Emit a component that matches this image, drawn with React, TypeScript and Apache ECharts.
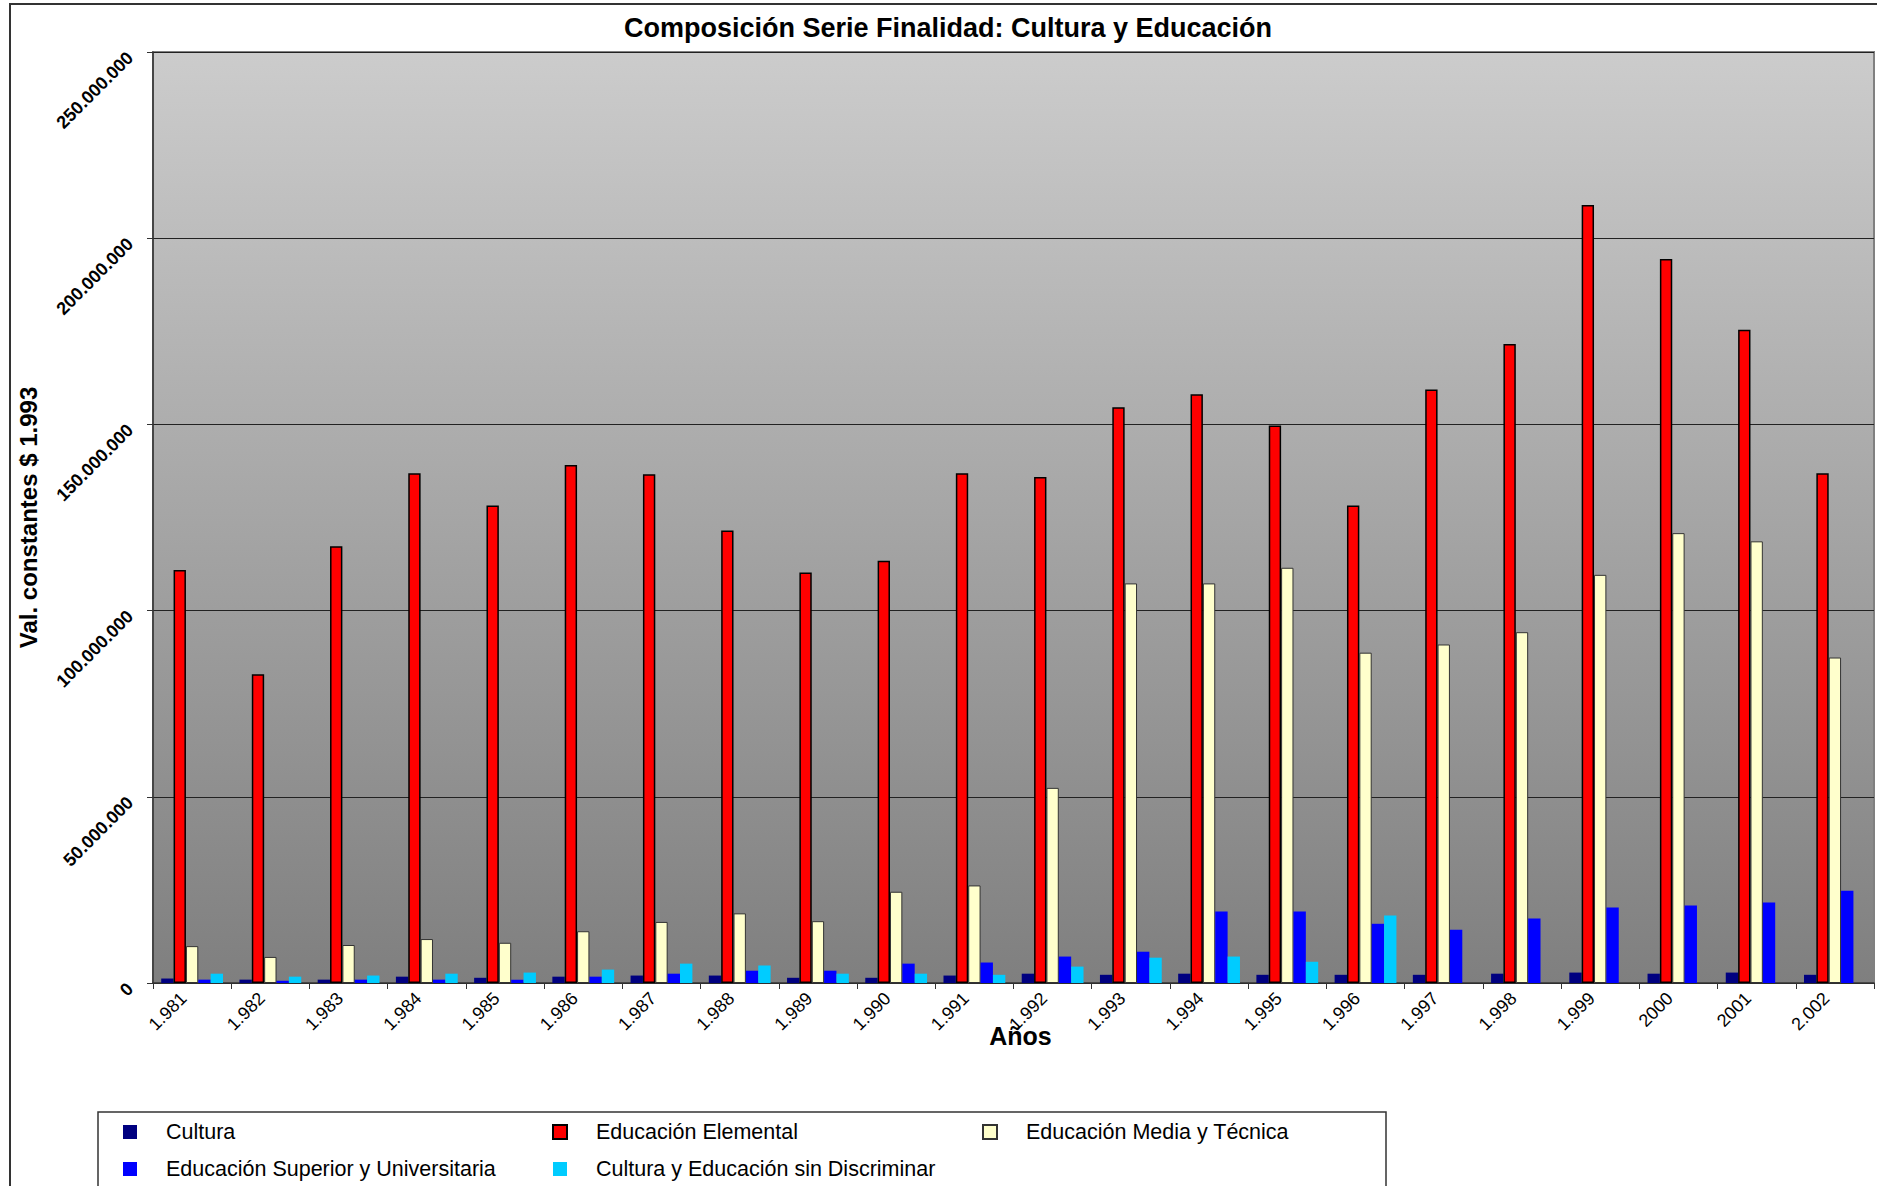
import React, { useEffect, useRef } from "react";
import * as echarts from "echarts";

const years = ["1.981","1.982","1.983","1.984","1.985","1.986","1.987","1.988","1.989","1.990","1.991","1.992","1.993","1.994","1.995","1.996","1.997","1.998","1.999","2000","2001","2.002"];

// values in millions of constant 1993 pesos
const cultura = [1.2,0.9,0.9,1.7,1.4,1.7,2.0,2.0,1.4,1.4,2.0,2.5,2.2,2.5,2.2,2.2,2.2,2.5,2.8,2.5,2.8,2.2];
const elemental = [110.9,82.9,117.3,136.9,128.2,139.1,136.6,121.5,110.2,113.4,136.9,135.9,154.6,158.1,149.7,128.2,159.4,171.6,208.9,194.4,175.4,136.9];
const mediaTecnica = [9.9,7.0,10.2,11.8,10.8,13.9,16.4,18.7,16.6,24.5,26.2,52.4,107.3,107.3,111.5,88.7,90.9,94.2,109.6,120.8,118.6,87.4];
const superior = [0.9,0.6,0.9,0.9,0.9,1.7,2.5,3.3,3.3,5.2,5.5,7.1,8.4,19.2,19.2,15.9,14.3,17.3,20.3,20.8,21.6,24.8];
const sinDiscriminar = [2.5,1.7,2.0,2.5,2.8,3.6,5.2,4.7,2.5,2.5,2.2,4.4,6.8,7.1,5.7,18.1,0,0,0,0,0,0];

const yTicks = [0, 50000000, 100000000, 150000000, 200000000, 250000000];

const FONT = "'Liberation Sans', Arial, sans-serif";

function fmt(v: number): string {
  return String(Math.round(v)).replace(/\B(?=(\d{3})+(?!\d))/g, ".");
}

const toUnits = (arr: number[]) => arr.map((v) => Math.round(v * 1e6));

const legendBase = {
  orient: "vertical",
  top: 1121,
  padding: 0,
  itemWidth: 14,
  itemHeight: 14,
  itemGap: 15,
  icon: "rect",
  z: 5,
  textStyle: { fontFamily: FONT, fontSize: 21.5, lineHeight: 22, color: "#000", padding: [0, 0, 0, 24] },
};

export default function App() {
  const ref = useRef<HTMLDivElement>(null);
  useEffect(() => {
    if (!ref.current) return;
    const chart = echarts.init(ref.current, null, { renderer: "svg" });
    const barBase = { type: "bar", barGap: "0%", barCategoryGap: "21%" };
    chart.setOption({
      animation: false,
      backgroundColor: "#ffffff",
      textStyle: { fontFamily: FONT },
      title: {
        text: "Composición Serie Finalidad: Cultura y Educación",
        left: 943,
        top: 9,
        textAlign: "center",
        textStyle: { fontFamily: FONT, fontSize: 27, fontWeight: "bold", color: "#000" },
      },
      graphic: [
        {
          type: "rect",
          shape: { x: 10, y: 4, width: 1900, height: 1300 },
          style: { fill: "none", stroke: "#333", lineWidth: 2 },
          z: -1,
          silent: true,
        },
        {
          type: "rect",
          shape: { x: 98, y: 1112, width: 1288, height: 200 },
          style: { fill: "#fff", stroke: "#333", lineWidth: 1.5 },
          z: 0,
          silent: true,
        },
      ],
      grid: {
        left: 153,
        right: 3,
        top: 52,
        bottom: 203,
        show: true,
        borderColor: "#808080",
        borderWidth: 2,
        backgroundColor: {
          type: "linear",
          x: 0, y: 0, x2: 0, y2: 1,
          colorStops: [
            { offset: 0, color: "#cccccc" },
            { offset: 1, color: "#7f7f7f" },
          ],
        },
      },
      legend: [
        { ...legendBase, data: ["Cultura", "Educación Superior y Universitaria"], left: 123 },
        { ...legendBase, data: ["Educación Elemental", "Cultura y Educación sin Discriminar"], left: 552 },
        { ...legendBase, data: ["Educación Media y Técnica"], left: 982 },
      ],
      xAxis: {
        type: "category",
        data: years,
        name: "Años",
        nameLocation: "middle",
        nameGap: 40,
        nameMoveOverlap: false,
        nameTextStyle: { fontFamily: FONT, fontSize: 25, fontWeight: "bold", color: "#000", padding: [0, 0, 0, 14] },
        axisLine: { show: true, lineStyle: { color: "#333", width: 1.5 } },
        axisTick: { show: true, length: 6, lineStyle: { color: "#333" } },
        axisLabel: { rotate: 45, margin: 4, fontFamily: FONT, fontSize: 18, color: "#000", interval: 0, padding: [0, 12, 0, 0] },
        splitLine: { show: false },
      },
      yAxis: {
        type: "value",
        min: 0,
        max: 250000000,
        interval: 50000000,
        name: "Val. constantes $ 1.993",
        nameLocation: "middle",
        nameRotate: 90,
        nameGap: 113,
        nameTextStyle: { fontFamily: FONT, fontSize: 24, fontWeight: "bold", color: "#000" },
        axisLine: { show: true, lineStyle: { color: "#333", width: 1.5 } },
        axisTick: { show: true, length: 6, lineStyle: { color: "#333" } },
        axisLabel: {
          rotate: 45, margin: 20, fontFamily: FONT, fontSize: 18, fontWeight: "bold", color: "#000",
          padding: [8, 4, 0, 0],
          formatter: (v: number) => (yTicks.includes(v) ? fmt(v) : ""),
        },
        splitLine: { show: true, lineStyle: { color: "#222", width: 1 } },
      },
      series: [
        { ...barBase, name: "Cultura", data: toUnits(cultura), itemStyle: { color: "#000080" } },
        { ...barBase, name: "Educación Elemental", data: toUnits(elemental), itemStyle: { color: "#ff0000", borderColor: "#000", borderWidth: 1.5 } },
        { ...barBase, name: "Educación Media y Técnica", data: toUnits(mediaTecnica), itemStyle: { color: "#ffffcc", borderColor: "#333", borderWidth: 1 } },
        { ...barBase, name: "Educación Superior y Universitaria", data: toUnits(superior), itemStyle: { color: "#0000ff" } },
        { ...barBase, name: "Cultura y Educación sin Discriminar", data: toUnits(sinDiscriminar), itemStyle: { color: "#00ccff" } },
      ],
    });
    return () => chart.dispose();
  }, []);
  return (
    <div
      ref={ref}
      style={{ position: "fixed", left: 0, top: 0, width: 1877, height: 1186 }}
    />
  );
}
